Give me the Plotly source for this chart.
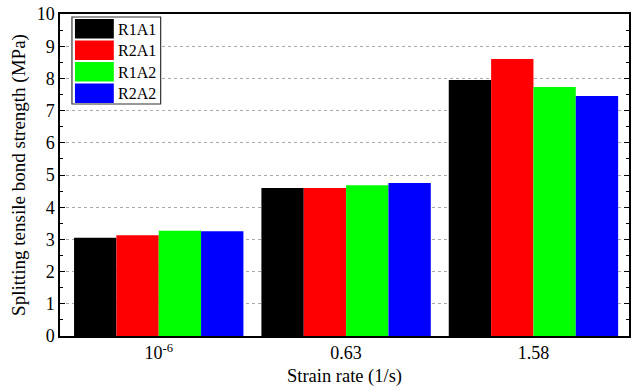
import plotly.graph_objects as go

categories = ["10<sup>-6</sup>", "0.63", "1.58"]
series_names = ["R1A1", "R2A1", "R1A2", "R2A2"]
series_colors = ["#000000", "#ff0000", "#00ff00", "#0000ff"]
values_R1A1 = [3.05, 4.60, 7.95]
values_R2A1 = [3.13, 4.60, 8.60]
values_R1A2 = [3.27, 4.68, 7.73]
values_R2A2 = [3.25, 4.75, 7.45]
series_values = [values_R1A1, values_R2A1, values_R1A2, values_R2A2]
y_ticks = [0, 1, 2, 3, 4, 5, 6, 7, 8, 9, 10]

FONT = "Liberation Serif"
W, H = 632, 391
ML, MR, MT, MB = 60, 1, 14, 55
PW, PH = W - ML - MR, H - MT - MB

fig = go.Figure()
for name, color, vals in zip(series_names, series_colors, series_values):
    fig.add_trace(go.Bar(x=categories, y=vals, name=name,
                         marker=dict(color=color, line=dict(width=0)),
                         showlegend=False))

def px_x(p):
    return (p - ML) / PW

def px_y(p):
    return 1 - (p - MT) / PH

# custom legend resembling the original's large swatches
shapes = [dict(type="rect", xref="paper", yref="paper",
               x0=px_x(72), x1=px_x(161), y0=px_y(104), y1=px_y(17),
               line=dict(color="#333333", width=1.2), fillcolor="white", layer="above")]
annotations = []
row_tops = [19, 40.5, 62, 83.5]
for i, (name, color) in enumerate(zip(series_names, series_colors)):
    t = row_tops[i]
    shapes.append(dict(type="rect", xref="paper", yref="paper",
                       x0=px_x(75), x1=px_x(114), y0=px_y(t + 19.5), y1=px_y(t),
                       line=dict(width=0), fillcolor=color, layer="above"))
    annotations.append(dict(xref="paper", yref="paper", x=px_x(116), y=px_y(t + 10),
                            text=name, showarrow=False, xanchor="left", yanchor="middle",
                            font=dict(family=FONT, size=16, color="black")))

fig.update_layout(
    width=W, height=H,
    margin=dict(l=ML, r=MR, t=MT, b=MB),
    paper_bgcolor="white", plot_bgcolor="white",
    barmode="group", bargap=0.096, bargroupgap=0,
    font=dict(family=FONT, size=18, color="black"),
    shapes=shapes, annotations=annotations,
    xaxis=dict(
        range=[-0.527, 2.51],
        showline=True, linecolor="black", linewidth=1.5, mirror=True,
        ticks="", showgrid=False,
        tickfont=dict(family=FONT, size=18),
        title=dict(text="Strain rate (1/s)", font=dict(family=FONT, size=18.5), standoff=7),
    ),
    yaxis=dict(
        range=[0, 10], tickvals=y_ticks,
        showline=True, linecolor="black", linewidth=1.5, mirror="ticks",
        ticks="inside", ticklen=5, tickcolor="black", tickwidth=1.2,
        showgrid=True, gridcolor="#aaaaaa", griddash="dot", gridwidth=1,
        zeroline=False,
        minor=dict(ticks="inside", dtick=0.5, ticklen=3, tickcolor="black", showgrid=False),
        tickfont=dict(family=FONT, size=18),
        title=dict(text="Splitting tensile bond strength (MPa)", font=dict(family=FONT, size=19), standoff=6),
    ),
)

fig.write_html("out.html")
